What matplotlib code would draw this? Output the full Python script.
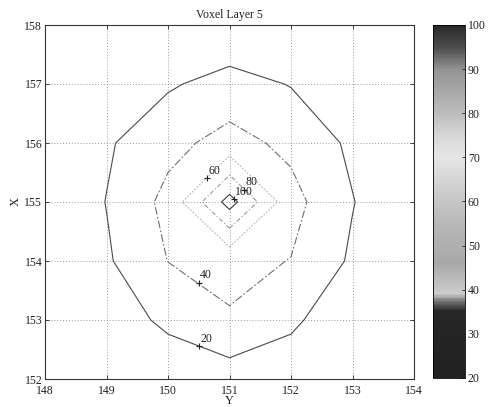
import numpy as np
import matplotlib
matplotlib.use("Agg")
import matplotlib.pyplot as plt
from matplotlib.colors import LinearSegmentedColormap, Normalize
from matplotlib.cm import ScalarMappable

plt.rcParams['font.family'] = ['Liberation Serif', 'DejaVu Serif']

# voxel centres (Y across, X up) and dose values on that grid, layer 5
grid_y = [148, 149, 150, 151, 152, 153, 154]
grid_x = [152, 153, 154, 155, 156, 157, 158]
dose = [
    [0.0, 2.0, 7.3, 9.65, 7.3, 2.0, 0.0],      # X = 152
    [0.0, 9.7, 24.0, 38.4, 24.0, 5.0, 0.0],    # X = 153
    [1.0, 17.5, 40.3, 45.0, 39.5, 17.1, 1.0],  # X = 154
    [2.0, 20.5, 45.6, 108.0, 46.7, 20.8, 2.0], # X = 155
    [1.0, 17.5, 34.4, 46.8, 35.3, 16.2, 1.0],  # X = 156
    [0.0, 8.0, 17.5, 27.9, 19.0, 8.0, 0.0],    # X = 157
    [0.0, 0.0, 0.0, 1.6, 0.0, 0.0, 0.0],       # X = 158
]
levels = [20, 40, 60, 80, 100]

# clabel positions picked on each contour
label_y = [150.50, 150.50, 150.64, 151.24, 151.07]
label_x = [152.56, 153.63, 155.40, 155.21, 155.05]
label_txt = ['20', '40', '60', '80', '100']

colorbar_ticks = [20, 30, 40, 50, 60, 70, 80, 90, 100]

# grey version of the colour scale as it comes out on paper
cb_stops = [(20, 0.13), (35, 0.15), (37, 0.40), (39, 0.80), (42, 0.74),
            (46, 0.66), (55, 0.72), (62, 0.80), (70, 0.90), (74, 0.86),
            (80, 0.74), (85, 0.66), (90, 0.58), (95, 0.30), (100, 0.16)]
cmap = LinearSegmentedColormap.from_list(
    'paper_grey',
    [((v - 20) / 80.0, (g, g, g)) for v, g in cb_stops])

line_colors = ['#4a4a4a', '#6e6e6e', '#b4b4b4', '#9a9a9a', '#3c3c3c']
line_styles = ['-', (0, (7, 2, 1.5, 2)), (0, (1.5, 1.5)), (0, (4, 2, 1, 2)), '-']

fig = plt.figure(figsize=(4.91, 4.07), dpi=100)
ax = fig.add_axes([45 / 491, 1 - 379 / 407, 369 / 491, 354 / 407])

Yg, Xg = np.meshgrid(grid_y, grid_x)
ax.contour(Yg, Xg, np.array(dose), levels=levels, colors=line_colors,
           linestyles=line_styles, linewidths=0.8)

ax.plot(label_y, label_x, '+', color='#222222', markersize=5, markeredgewidth=0.8)
for yy, xx, t in zip(label_y, label_x, label_txt):
    ax.annotate(t, (yy, xx), xytext=(1, 1), textcoords='offset points',
                ha='left', va='bottom', fontsize=8.5, color='#222222')

ax.set_xlim(148, 154)
ax.set_ylim(152, 158)
ax.set_xticks(range(148, 155))
ax.set_yticks(range(152, 159))
ax.grid(True, linestyle=(0, (1, 2)), color='#9a9a9a', linewidth=0.7)
ax.tick_params(direction='in', top=True, right=True, labelsize=8.5,
               length=3, width=0.6, colors='#222222', pad=2)
ax.tick_params(axis='x', pad=4)
for s in ax.spines.values():
    s.set_linewidth(0.8)
    s.set_color('#333333')

ax.set_title('Voxel Layer 5', fontsize=8.5, pad=5, color='#222222')
ax.set_xlabel('Y', fontsize=9, labelpad=-1, color='#222222')
ax.set_ylabel('X', fontsize=9, labelpad=2, color='#222222')

cax = fig.add_axes([433 / 491, 1 - 378 / 407, 32 / 491, 353 / 407])
cb = fig.colorbar(ScalarMappable(norm=Normalize(20, 100), cmap=cmap),
                  cax=cax, ticks=colorbar_ticks)
cb.outline.set_linewidth(0.6)
cax.tick_params(labelsize=8.5, direction='in', length=2, width=0.6,
                colors='#222222', pad=2)

fig.savefig('out.png', dpi=100)
